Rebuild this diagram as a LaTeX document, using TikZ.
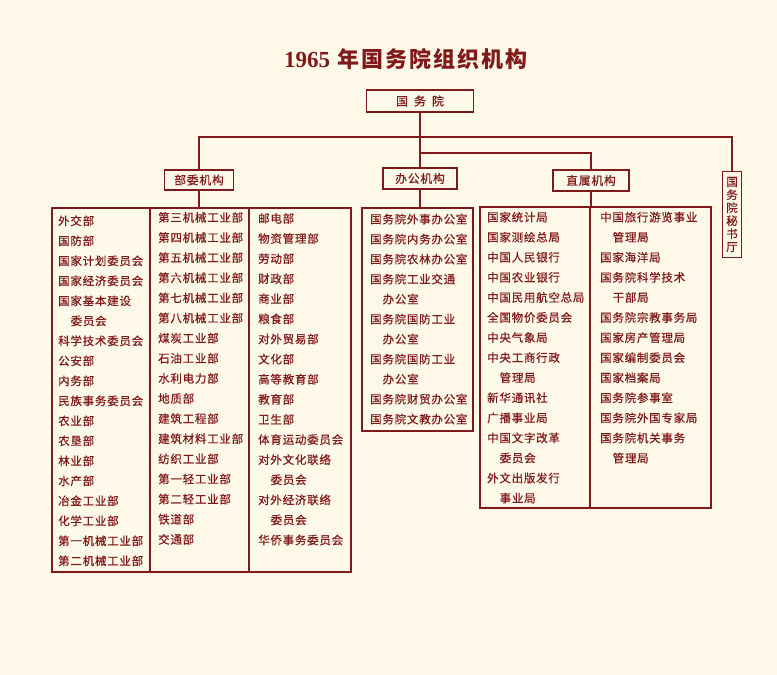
\documentclass[tikz,border=0pt]{standalone}
\usepackage{fontspec}
\newfontfamily\cjk[LetterSpace=6.5,FakeBold=0.5]{Noto Sans CJK SC}
\newfontfamily\cjkplain[FakeBold=0.5]{Noto Sans CJK SC}
\newfontfamily\cjktitle[LetterSpace=9]{Noto Sans CJK SC}
\newfontfamily\serifnum{Liberation Serif}
\definecolor{bgc}{RGB}{255,249,234}
\definecolor{ink}{RGB}{128,26,26}
\newcommand\indt{\hspace*{12.5pt}}
\tikzset{
  connline/.style={draw=ink, line width=1.5pt},
  orgbox/.style={draw=ink, line width=1.7pt, inner sep=0pt, rectangle, text=ink},
  catbox/.style={orgbox, font=\cjk\fontsize{11.8}{13}\selectfont},
  itemtext/.style={anchor=base west, inner sep=0pt, text=ink, font=\cjk\fontsize{11.5}{13}\selectfont},
}
\begin{document}
\begin{tikzpicture}[x=1pt,y=-1pt]
\fill[bgc] (0,0) rectangle (777,675);
\useasboundingbox (0,0) rectangle (777,675);

% title
\node[anchor=base west, inner sep=0pt, text=ink] (title) at (284,67)
  {{\serifnum\bfseries\fontsize{23}{26}\selectfont 1965}\hspace{7pt}{\cjktitle\bfseries\fontsize{22}{26}\selectfont 年国务院组织机构}};

% top and category boxes
\node[orgbox, minimum width=107pt, minimum height=22pt, font=\cjk\fontsize{12}{13}\selectfont] (gwy) at (420,101) {国\hspace{6pt}务\hspace{6pt}院};
\node[catbox, minimum width=69pt, minimum height=20pt] (bw) at (199,180) {部委机构};
\node[catbox, minimum width=74pt, minimum height=21pt] (bg) at (420,178.5) {办公机构};
\node[catbox, minimum width=76pt, minimum height=21pt] (zs) at (591,180.5) {直属机构};
\node[orgbox, minimum width=19pt, minimum height=86pt, align=center, font=\cjkplain\fontsize{11.5}{13}\selectfont] (msc) at (732,214.5) {国\\务\\院\\秘\\书\\厅};

% list boxes
\node[orgbox, minimum width=299pt, minimum height=364pt] (bwl) at (201.5,390) {};
\node[orgbox, minimum width=111pt, minimum height=223pt] (bgl) at (417.5,319.5) {};
\node[orgbox, minimum width=231pt, minimum height=301pt] (zsl) at (595.5,357.5) {};

% column dividers
\draw[connline] ([xshift=99pt]bwl.north west) -- ([xshift=99pt]bwl.south west);
\draw[connline] ([xshift=198pt]bwl.north west) -- ([xshift=198pt]bwl.south west);
\draw[connline] ([xshift=111pt]zsl.north west) -- ([xshift=111pt]zsl.south west);

% connectors
\coordinate (j1) at (420,137);
\coordinate (j2) at (420,153);
\draw[connline] (bw.north) |- (j1) -| (msc.north);
\draw[connline] (gwy.south) -- (bg.north);
\draw[connline] (j2) -| (zs.north);
\draw[connline] (bw.south) -- (bw.south |- bwl.north);
\draw[connline] (bg.south) -- (bg.south |- bgl.north);
\draw[connline] (zs.south) -- (zs.south |- zsl.north);

% 部委 column 1
\foreach \t [count=\i from 0] in {外交部,国防部,国家计划委员会,国家经济委员会,国家基本建设,\indt 委员会,科学技术委员会,公安部,内务部,民族事务委员会,农业部,农垦部,林业部,水产部,冶金工业部,化学工业部,第一机械工业部,第二机械工业部}
  \node[itemtext] (ba-\i) at (58,220.7+20*\i+4.5) {\t};
% 部委 column 2
\foreach \t [count=\i from 0] in {第三机械工业部,第四机械工业部,第五机械工业部,第六机械工业部,第七机械工业部,第八机械工业部,煤炭工业部,石油工业部,水利电力部,地质部,建筑工程部,建筑材料工业部,纺织工业部,第一轻工业部,第二轻工业部,铁道部,交通部}
  \node[itemtext] (bb-\i) at (158,217.3+20.12*\i+4.5) {\t};
% 部委 column 3
\foreach \t [count=\i from 0] in {邮电部,物资管理部,劳动部,财政部,商业部,粮食部,对外贸易部,文化部,高等教育部,教育部,卫生部,体育运动委员会,对外文化联络,\indt 委员会,对外经济联络,\indt 委员会,华侨事务委员会}
  \node[itemtext] (bc-\i) at (258,218.3+20.1*\i+4.5) {\t};
% 办公
\foreach \t [count=\i from 0] in {国务院外事办公室,国务院内务办公室,国务院农林办公室,国务院工业交通,\indt 办公室,国务院国防工业,\indt 办公室,国务院国防工业,\indt 办公室,国务院财贸办公室,国务院文教办公室}
  \node[itemtext] (ga-\i) at (370,219+20*\i+4.5) {\t};
% 直属 column 1
\foreach \t [count=\i from 0] in {国家统计局,国家测绘总局,中国人民银行,中国农业银行,中国民用航空总局,全国物价委员会,中央气象局,中央工商行政,\indt 管理局,新华通讯社,广播事业局,中国文字改革,\indt 委员会,外文出版发行,\indt 事业局}
  \node[itemtext] (za-\i) at (487,217+20.07*\i+4.5) {\t};
% 直属 column 2
\foreach \t [count=\i from 0] in {中国旅行游览事业,\indt 管理局,国家海洋局,国务院科学技术,\indt 干部局,国务院宗教事务局,国家房产管理局,国家编制委员会,国家档案局,国务院参事室,国务院外国专家局,国务院机关事务,\indt 管理局}
  \node[itemtext] (zb-\i) at (600,217+20.08*\i+4.5) {\t};
\end{tikzpicture}
\end{document}
